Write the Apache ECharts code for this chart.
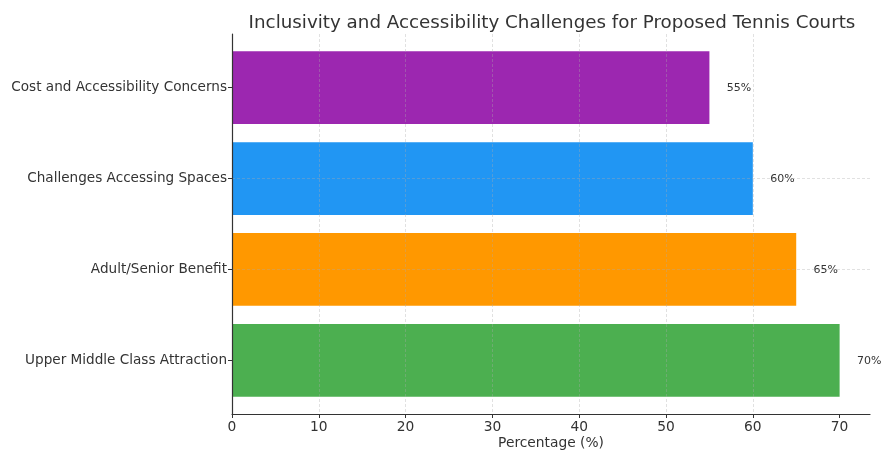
<!DOCTYPE html>
<html>
<head>
<meta charset="utf-8">
<script src="https://cdn.jsdelivr.net/npm/echarts@6/dist/echarts.min.js"></script>
<style>
  html, body { margin: 0; padding: 0; background: #fff; }
  #chart { width: 885px; height: 450px; }
</style>
</head>
<body>
<div id="chart"></div>
<script>
// Survey categories, listed from the bottom bar to the top bar
var categories = [
  'Upper Middle Class Attraction',
  'Adult/Senior Benefit',
  'Challenges Accessing Spaces',
  'Cost and Accessibility Concerns'
];
var percentages = [70, 65, 60, 55];
var barColors = ['#4CAF50', '#FF9800', '#2196F3', '#9C27B0'];
var xTicks = [0, 10, 20, 30, 40, 50, 60, 70];
var categoryPositions = [0, 1, 2, 3];

var FONT = 'DejaVu Sans';
var TEXT = '#333333';

var chart = echarts.init(document.getElementById('chart'), null, { renderer: 'canvas' });

var seriesData = percentages.map(function (v, i) { return [v, i]; });

chart.setOption({
  animation: false,
  backgroundColor: '#ffffff',
  title: {
    text: 'Inclusivity and Accessibility Challenges for Proposed Tennis Courts',
    left: 547,
    textAlign: 'center',
    top: 9,
    textStyle: { fontFamily: FONT, fontSize: 18.3, fontWeight: 'normal', color: TEXT }
  },
  grid: { left: 232, right: 15, top: 34, bottom: 36, containLabel: false, outerBoundsMode: 'none' },
  xAxis: {
    type: 'value',
    min: 0,
    max: 73.5,
    z: 5,
    name: 'Percentage (%)',
    nameLocation: 'middle',
    nameGap: 22,
    nameMoveOverlap: false,
    nameTextStyle: { fontFamily: FONT, fontSize: 13.8, color: TEXT },
    axisLine: { show: true, onZero: false, lineStyle: { color: '#333', width: 1.2 } },
    axisTick: { show: true, customValues: xTicks, length: 4, lineStyle: { color: '#333' } },
    axisLabel: { customValues: xTicks, margin: 6, fontFamily: FONT, fontSize: 13.8, color: TEXT },
    splitLine: {
      show: true, showMinLine: false, showMaxLine: false,
      lineStyle: { color: 'rgba(170,170,170,0.45)', type: [3, 2], width: 0.8 }
    }
  },
  yAxis: {
    type: 'value',
    min: -0.59,
    max: 3.59,
    z: 5,
    axisLine: { show: true, onZero: false, lineStyle: { color: '#333', width: 1.2 } },
    axisTick: { show: true, customValues: categoryPositions, length: 4, lineStyle: { color: '#333' } },
    axisLabel: {
      customValues: categoryPositions,
      margin: 5,
      padding: [3, 0, 0, 0],
      fontFamily: FONT, fontSize: 13.6, color: TEXT,
      formatter: function (v) { return categories[Math.round(v)]; }
    },
    splitLine: {
      show: true, showMinLine: false, showMaxLine: false,
      lineStyle: { color: 'rgba(170,170,170,0.45)', type: [3, 2], width: 0.8 }
    }
  },
  series: [{
    type: 'custom',
    z: 2,
    data: seriesData,
    encode: { x: 0, y: 1 },
    renderItem: function (params, api) {
      var v = api.value(0);
      var idx = api.value(1);
      var topLeft = api.coord([0, idx + 0.4]);
      var bottomRight = api.coord([v, idx - 0.4]);
      var labelPos = api.coord([v + 2, idx]);
      return {
        type: 'group',
        children: [{
          type: 'rect',
          shape: {
            x: topLeft[0], y: topLeft[1],
            width: bottomRight[0] - topLeft[0],
            height: bottomRight[1] - topLeft[1]
          },
          style: { fill: barColors[idx] }
        }, {
          type: 'text',
          x: labelPos[0], y: labelPos[1] + 1,
          style: {
            text: v + '%',
            fontFamily: FONT, fontSize: 11, fill: TEXT,
            align: 'left', verticalAlign: 'middle'
          }
        }]
      };
    }
  }]
});
</script>
</body>
</html>
